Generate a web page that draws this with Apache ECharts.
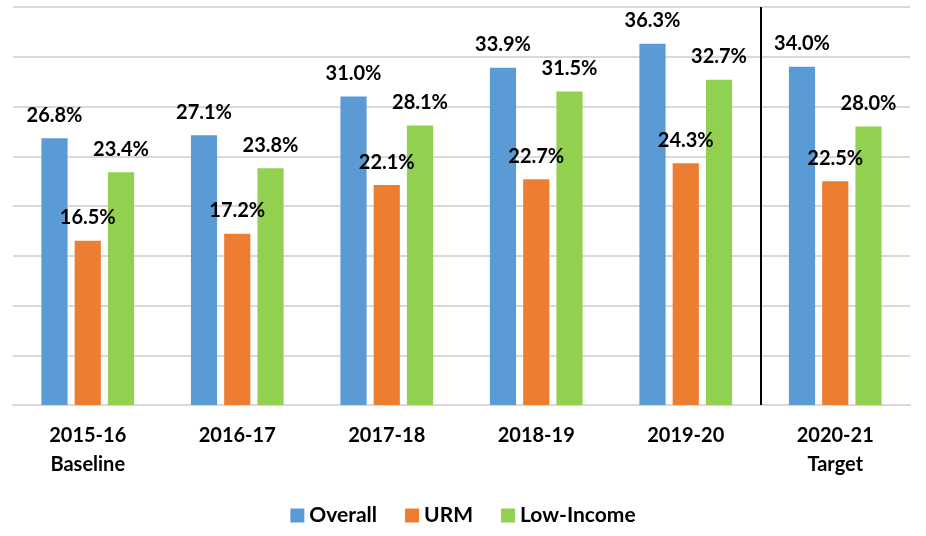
<!DOCTYPE html>
<html lang="en">
<head>
	<meta charset="UTF-8">
	<title>Rates by year</title>
	<script src="https://cdn.jsdelivr.net/npm/echarts@6/dist/echarts.min.js"></script>
</head>
<body style="margin:0">
	<div id="main" style="width: 926px;height:536px;"></div>
	<script type="text/javascript">
		var categories = ['2015-16\nBaseline', '2016-17', '2017-18', '2018-19', '2019-20', '2020-21\nTarget'];
		var overall = [26.8, 27.1, 31.0, 33.9, 36.3, 34.0];
		var urm = [16.5, 17.2, 22.1, 22.7, 24.3, 22.5];
		var lowIncome = [23.4, 23.8, 28.1, 31.5, 32.7, 28.0];
		// position of the divider, in category units (between 2019-20 and 2020-21)
		var dividerAt = 5;

		var myChart = echarts.init(document.getElementById('main'));

		var labelStyle = {
			show: true,
			position: 'top',
			distance: 13,
			color: '#000',
			fontWeight: 'bold',
			fontSize: 20,
			fontFamily: 'Lato',
			formatter: function (p) { return p.value.toFixed(1) + '%'; }
		};

		function barSeries(name, data, color) {
			return {
				name: name,
				type: 'bar',
				data: data,
				barGap: '27%',
				barCategoryGap: '38%',
				itemStyle: { color: color },
				label: labelStyle
			};
		}

		var option = {
			backgroundColor: '#fff',
			animation: false,
			grid: { left: 13, right: 16, top: 7, bottom: 131 },
			legend: {
				bottom: 5,
				left: 'center',
				itemWidth: 14,
				itemHeight: 14,
				itemGap: 28,
				icon: 'rect',
				textStyle: { color: '#000', fontWeight: 'bold', fontSize: 21, fontFamily: 'Lato' },
				data: ['Overall', 'URM', 'Low-Income']
			},
			xAxis: [{
				type: 'category',
				data: categories,
				axisLine: { lineStyle: { color: '#d9d9d9', width: 2 } },
				axisTick: { show: false },
				axisLabel: {
					color: '#000',
					fontWeight: 'bold',
					fontSize: 20,
					fontFamily: 'Lato',
					lineHeight: 29,
					margin: 16
				}
			}, {
				type: 'value',
				min: 0,
				max: categories.length,
				show: false
			}],
			yAxis: {
				type: 'value',
				min: 0,
				max: 40,
				interval: 5,
				axisLabel: { show: false },
				axisLine: { show: false },
				axisTick: { show: false },
				splitLine: { lineStyle: { color: '#d9d9d9', width: 2 } }
			},
			series: [
				barSeries('Overall', overall, '#5b9bd5'),
				barSeries('URM', urm, '#ed7d31'),
				barSeries('Low-Income', lowIncome, '#92d050'),
				{
					type: 'line',
					xAxisIndex: 1,
					data: [],
					silent: true,
					markLine: {
						symbol: 'none',
						label: { show: false },
						lineStyle: { color: '#000', width: 2, type: 'solid' },
						data: [{ xAxis: dividerAt }]
					}
				}
			]
		};

		myChart.setOption(option);
	</script>
</body>
</html>
